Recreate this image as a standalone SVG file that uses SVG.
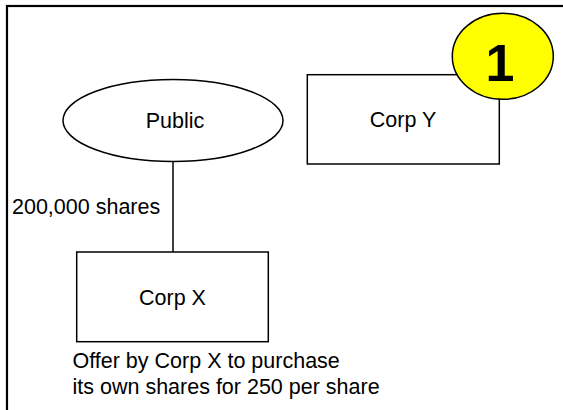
<svg xmlns="http://www.w3.org/2000/svg" width="563" height="410" viewBox="0 0 563 410">
<style>
.shape{fill:#fff;stroke:#000;stroke-width:1.5}
.lbl{font-family:"Liberation Sans",Arial,sans-serif;font-size:21.5px;fill:#000}
.mid{text-anchor:middle}
</style>
<rect x="0" y="0" width="563" height="410" fill="#fff"/>
<rect id="frame" x="7" y="6" width="620" height="460" fill="none" stroke="#000" stroke-width="2.2"/>
<g id="connectors">
<line x1="173" y1="162" x2="173" y2="252" stroke="#000" stroke-width="1.5"/>
<text class="lbl" x="12" y="214">200,000 shares</text>
</g>
<g id="public">
<ellipse class="shape" cx="173" cy="120.5" rx="110" ry="41"/>
<text class="lbl mid" x="175" y="127.5">Public</text>
</g>
<g id="corpY">
<rect class="shape" x="307.3" y="74.7" width="192" height="89.3"/>
<text class="lbl mid" x="403" y="126.5">Corp Y</text>
</g>
<g id="badge">
<ellipse cx="502.8" cy="56.3" rx="50.5" ry="43" fill="#ffff00" stroke="#000" stroke-width="1.5"/>
<text x="500" y="81" text-anchor="middle" font-family="'Liberation Sans',Arial,sans-serif" font-weight="bold" font-size="52">1</text>
</g>
<g id="corpX">
<rect class="shape" x="76.7" y="252" width="191.6" height="89.7"/>
<text class="lbl mid" x="172.5" y="305">Corp X</text>
</g>
<g id="note">
<text class="lbl" x="72.5" y="367.5">Offer by Corp X to purchase</text>
<text class="lbl" x="72.5" y="393.5">its own shares for 250 per share</text>
</g>
</svg>
